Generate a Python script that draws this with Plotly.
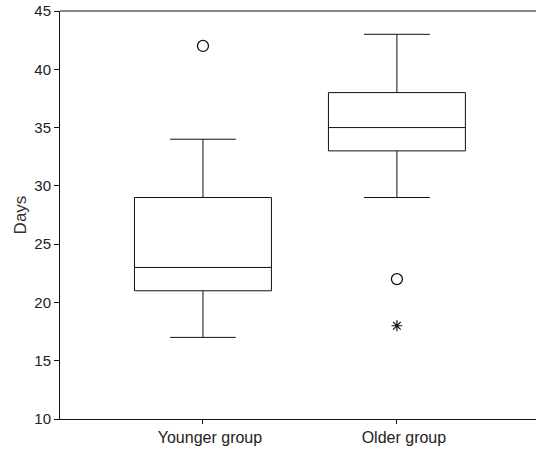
import plotly.graph_objects as go

groups = ["Younger group", "Older group"]
lower_whisker = [17, 29]
q1 = [21, 33]
median = [23, 35]
q3 = [29, 38]
upper_whisker = [34, 43]
circle_outliers_x = ["Younger group", "Older group"]
circle_outliers_y = [42, 22]
extreme_outliers_x = ["Older group"]
extreme_outliers_y = [18]
y_ticks = [10, 15, 20, 25, 30, 35, 40, 45]

fig = go.Figure()
fig.add_trace(go.Box(
    x=groups, q1=q1, median=median, q3=q3,
    lowerfence=lower_whisker, upperfence=upper_whisker,
    fillcolor="white", line=dict(color="#111", width=1),
    whiskerwidth=0.48, width=0.706, boxpoints=False, showlegend=False,
    hoverinfo="skip",
))
fig.add_trace(go.Scatter(
    x=circle_outliers_x, y=circle_outliers_y, mode="markers",
    marker=dict(symbol="circle-open", size=11, color="#111", line=dict(width=1.3)),
    showlegend=False,
))
fig.add_trace(go.Scatter(
    x=extreme_outliers_x, y=extreme_outliers_y, mode="markers",
    marker=dict(symbol="asterisk-open", size=9, color="#111", line=dict(width=1.2)),
    showlegend=False,
))

fig.update_layout(
    width=537, height=449,
    margin=dict(l=60, r=1, t=11, b=30),
    plot_bgcolor="white", paper_bgcolor="white",
    font=dict(family="Liberation Sans, Arial, sans-serif", size=15, color="#222"),
    xaxis=dict(
        type="category", range=[-0.737, 1.717],
        showline=True, linecolor="#111", linewidth=1, mirror=False,
        ticks="outside", ticklen=4, tickcolor="#111", showgrid=False,
        tickfont=dict(size=16), zeroline=False, ticklabelshift=7,
    ),
    yaxis=dict(
        range=[10, 45], tickvals=y_ticks,
        showline=True, linecolor="#111", linewidth=1,
        ticks="outside", ticklen=5, tickcolor="#111", showgrid=False,
        zeroline=False, tickfont=dict(size=15),
        title=dict(text="Days", font=dict(size=17, color="#333"), standoff=3),
    ),
)
fig.add_shape(type="line", xref="paper", yref="paper", x0=0, x1=1, y0=1, y1=1,
              line=dict(color="#111", width=1))

fig.write_html("out.html", config={"displayModeBar": False},
               post_script="document.body.style.margin='0';")
